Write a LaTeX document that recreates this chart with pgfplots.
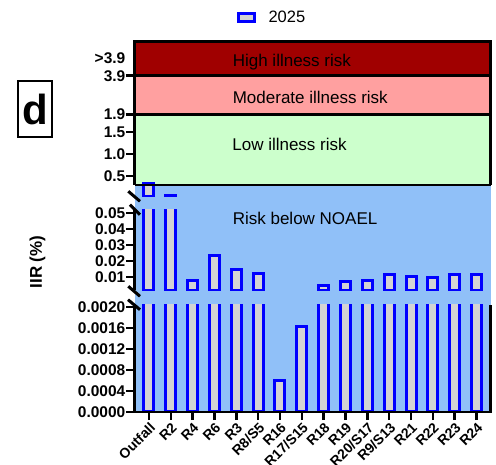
\documentclass[border=0pt]{standalone}
\usepackage{fontspec}
\setmainfont{Liberation Sans}
\usepackage{pgfplots}
\pgfplotsset{compat=1.18}
\usepackage{pgfplotstable}

\definecolor{bgblue}{RGB}{144,192,248}
\definecolor{lowgreen}{RGB}{204,255,204}
\definecolor{modpink}{RGB}{255,160,160}
\definecolor{highred}{RGB}{160,0,0}
\definecolor{barfill}{RGB}{211,211,211}
\definecolor{barblue}{RGB}{0,0,255}

\pgfplotstableread{
x val
0 0.34
1 0.055
2 0.0079
3 0.0236
4 0.0144
5 0.0121
6 0.000596
7 0.001625
8 0.0044
9 0.0071
10 0.0077
11 0.0117
12 0.0102
13 0.0098
14 0.0114
15 0.0113
}\iirdata

\pgfplotsset{
  segment/.style={
    scale only axis, width=356pt, xmin=-0.66, xmax=15.64,
    axis line style={draw=none},
    ytick pos=left, xtick pos=bottom,
    tick align=outside,
    major tick length=8pt,
    tick style={black, line width=2.5pt},
    tick label style={font=\fontsize{15.5}{15.5}\selectfont\bfseries},
    yticklabel style={inner sep=1pt},
    scaled y ticks=false,
    ybar, bar width=10pt,
    anchor=south west,
  },
  bars/.style={draw=barblue, fill=barfill, line width=3pt},
}

\begin{document}
\begin{tikzpicture}
\useasboundingbox (0pt,0pt) rectangle (496pt,464pt);
\fill[bgblue] (134.5pt,52pt) rectangle (490.5pt,279pt);

% bottom segment
\begin{axis}[segment, name=bot, at={(134.5pt,52pt)}, height=107.5pt,
  ymin=0, ymax=0.0020476,
  restrict y to domain*=0:0.0025,
  ytick={0,0.0004,0.0008,0.0012,0.0016,0.0020},
  yticklabels={0.0000,0.0004,0.0008,0.0012,0.0016,0.0020},
  xtick={0,...,15},
  xticklabels={Outfall,R2,R4,R6,R3,R8/S5,R16,R17/S15,R18,R19,R20/S17,R9/S13,R21,R22,R23,R24},
  xticklabel style={rotate=45, anchor=north east, font=\fontsize{14}{14}\selectfont\bfseries, inner sep=1pt},
]
\addplot[bars] table[x=x,y=val]{\iirdata};
\end{axis}

% middle segment
\begin{axis}[segment, name=mid, at={(134.5pt,173.5pt)}, height=80.5pt,
  ymin=0.0015625, ymax=0.051875,
  restrict y to domain=0.0019:1,
  ytick={0.01,0.02,0.03,0.04,0.05},
  yticklabels={0.01,0.02,0.03,0.04,0.05},
  xtick=\empty,
]
\addplot[bars] table[x=x,y=val]{\iirdata};
\node[anchor=base west, font=\fontsize{17}{17}\selectfont] at (axis cs:3.68,0.0425) {Risk below NOAEL};
\end{axis}

% top segment (display scale: linear to 1.9, then bands)
\begin{axis}[segment, name=top, at={(134.5pt,267.5pt)}, height=154.5pt,
  ymin=0.0341, ymax=3.5454,
  restrict y to domain=0.05:5,
  ytick={0.5,1,1.5,1.9,2.7727},
  yticklabels={0.5,1.0,1.5,1.9,3.9},
  extra y ticks={3.1818},
  extra y tick labels={>3.9},
  extra y tick style={major tick style={draw=none}},
  xtick=\empty,
  legend style={at={(axis description cs:0.386,1.1586)}, anchor=center, draw=none, fill=none,
    font=\fontsize{16.5}{16.5}\selectfont},
]
\fill[lowgreen] (axis cs:-0.66,0.3) rectangle (axis cs:15.64,1.9);
\fill[modpink] (axis cs:-0.66,1.9) rectangle (axis cs:15.64,2.7727);
\fill[highred] (axis cs:-0.66,2.7727) rectangle (axis cs:15.64,3.5454);
\addplot[bars, legend image code/.code={\draw[line width=3pt, draw=barblue, fill=barfill] (0pt,-4pt) rectangle (16pt,4pt); \path (27pt,0pt);}] table[x=x,y=val]{\iirdata};
\addlegendentry{2025}
\node[anchor=base west, font=\fontsize{17}{17}\selectfont] at (axis cs:3.68,2.984) {High illness risk};
\node[anchor=base west, font=\fontsize{17}{17}\selectfont] at (axis cs:3.68,2.152) {Moderate illness risk};
\node[anchor=base west, font=\fontsize{17}{17}\selectfont] at (axis cs:3.66,1.075) {Low illness risk};
\coordinate (b03) at (axis cs:-0.66,0.3);
\coordinate (e03) at (axis cs:15.64,0.3);
\coordinate (b19) at (axis cs:-0.66,1.9);
\coordinate (e19) at (axis cs:15.64,1.9);
\coordinate (b39) at (axis cs:-0.66,2.7727);
\coordinate (e39) at (axis cs:15.64,2.7727);
\end{axis}

% spines
\draw[line width=2.5pt] (bot.north west) -- (bot.south west) -- (bot.south east) -- (bot.north east);
\draw[line width=2.5pt] (mid.north west) -- (mid.south west);
\draw[line width=2pt] (b03) -- (e03);
\draw[line width=3pt] (b03) |- (top.north east) -- (e03);
\draw[line width=3pt] ([xshift=-9pt]b19) -- (e19);
\draw[line width=3pt] ([xshift=-9pt]b39) -- (e39);

% axis break marks
\draw[line width=3pt] (128.3pt,272.7pt) -- (140pt,262.7pt);
\draw[line width=3pt] (130pt,259.3pt) -- (140pt,249.3pt);
\draw[line width=3pt] (128.3pt,177.7pt) -- (140pt,167.7pt);
\draw[line width=3pt] (128pt,164.3pt) -- (140pt,154.3pt);

% y label and panel letter
\node[rotate=90, font=\fontsize{17}{17}\selectfont\bfseries] at (37.5pt,202pt) {IIR (\%)};
\node[draw, line width=2.5pt, minimum width=34pt, minimum height=56pt, inner sep=0pt,
  font=\fontsize{42}{42}\selectfont\bfseries] at (35pt,355pt) {d};
\end{tikzpicture}
\end{document}
